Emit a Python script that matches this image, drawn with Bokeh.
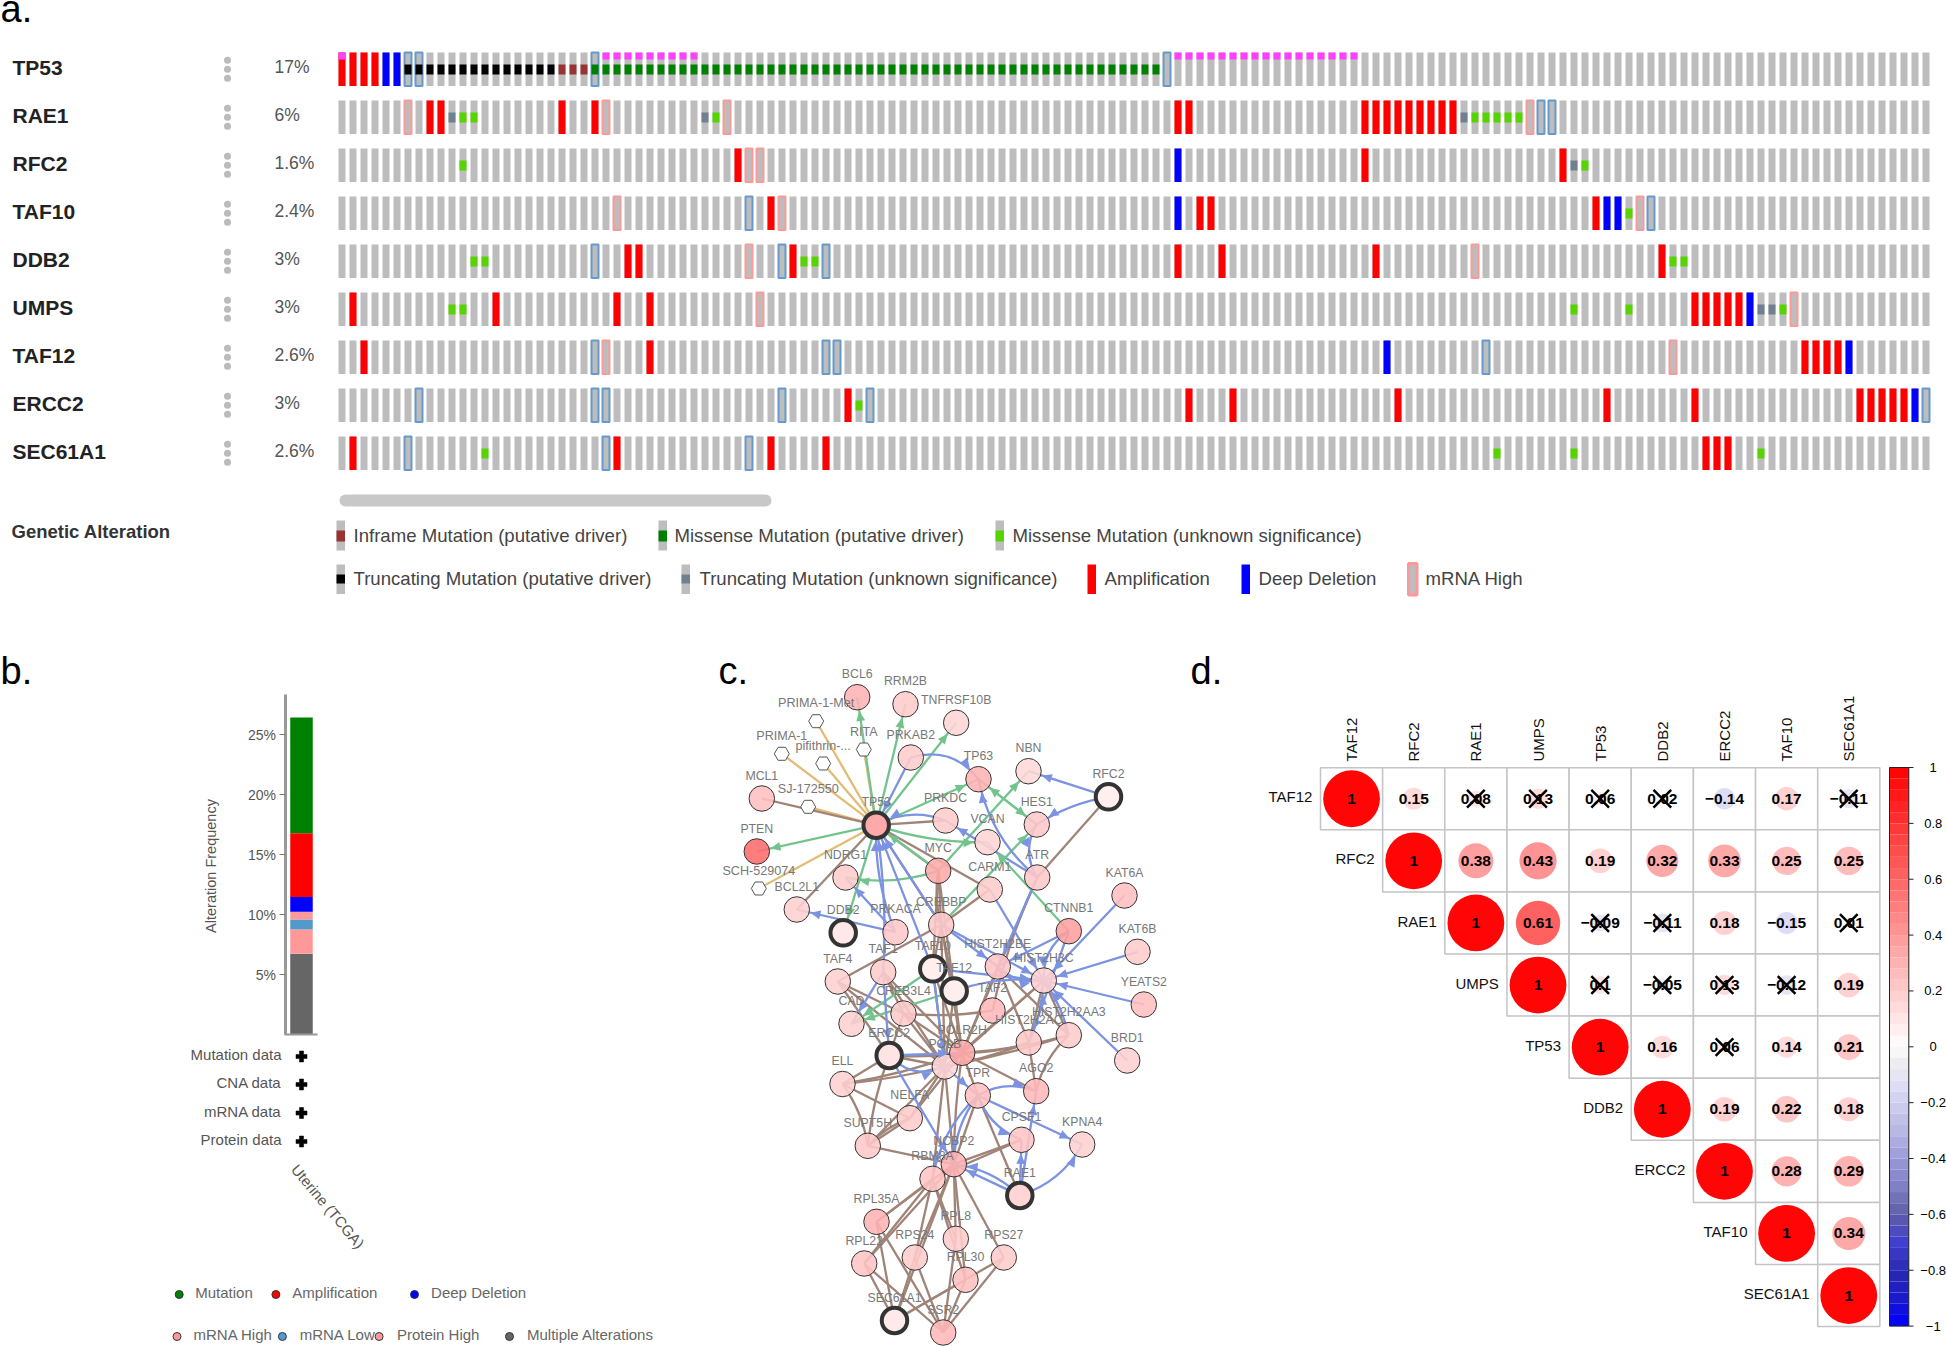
import math
import numpy as np
from bokeh.core.properties import value
from bokeh.embed import file_html
from bokeh.layouts import column, row
from bokeh.models import ColumnDataSource, FixedTicker, LinearAxis, LinearColorMapper, Range1d
from bokeh.plotting import figure
from bokeh.resources import INLINE

FONT = value("Liberation Sans")

# ------------------------------ panel a data ------------------------------
genes = ["TP53", "RAE1", "RFC2", "TAF10", "DDB2", "UMPS", "TAF12", "ERCC2", "SEC61A1"]
pcts = ["17%", "6%", "1.6%", "2.4%", "3%", "3%", "2.6%", "3%", "2.6%"]
n_samples = 145
amp = [[0, 1, 2, 3], [8, 9, 20, 23, 76, 77] + list(range(93, 102)), [36, 93, 111], [39, 78, 79, 114],
       [26, 27, 41, 76, 80, 94, 120], [1, 14, 25, 28, 123, 124, 125, 126, 127], [2, 28, 133, 134, 135, 136],
       [46, 77, 81, 96, 115, 123, 138, 139, 140, 141, 142], [1, 25, 39, 44, 124, 125, 126]]
deep = [[4, 5], [], [76], [76, 115, 116], [], [128], [95, 137], [143], []]
mrna_high = [[], [6, 24, 35, 108], [37, 38], [25, 40, 118], [37, 103], [38, 132], [24, 121], [], []]
mrna_low = [[6, 7, 23, 75], [109, 110], [], [37, 119], [23, 40, 44], [], [23, 44, 45, 104],
            [7, 23, 24, 40, 48, 144], [6, 24, 37]]
protein_high = [[0] + list(range(24, 33)) + list(range(76, 93)), [], [], [], [], [], [], [], []]
trunc_driver = [list(range(6, 20)), [], [], [], [], [], [], [], []]
inframe_driver = [[20, 21, 22], [], [], [], [], [], [], [], []]
missense_driver = [list(range(23, 75)), [], [], [], [], [], [], [], []]
missense_unknown = [[], [11, 12, 34, 103, 104, 105, 106, 107], [11, 113], [117], [12, 13, 42, 43, 121, 122],
                    [10, 11, 112, 117, 131], [], [47], [13, 105, 112, 129]]
trunc_unknown = [[], [10, 33, 102], [112], [], [], [129, 130], [], [], []]

legend_a = [("Inframe Mutation (putative driver)", "inframe"), ("Missense Mutation (putative driver)", "misdrv"),
            ("Missense Mutation (unknown significance)", "misunk"), ("Truncating Mutation (putative driver)", "trdrv"),
            ("Truncating Mutation (unknown significance)", "trunk"), ("Amplification", "amp"),
            ("Deep Deletion", "deep"), ("mRNA High", "high")]
legend_a_swatch_x = [336, 658, 995, 336, 681, 1087, 1241, 1407]
legend_a_text_x = [353, 674, 1012, 353, 699, 1104, 1258, 1425]
legend_a_row = [0, 0, 0, 1, 1, 1, 1, 1]

C_GREY = "#bdbdbd"
C = dict(amp="#ff0000", deep="#0000ff", high="#ff9999", low="#6699cc", prot="#ff40ff", trdrv="#000000",
         trunk="#708090", inframe="#993333", misdrv="#008000", misunk="#55d400")

# ------------------------------ panel b data ------------------------------
stack_names = ["Multiple Alterations", "Protein High", "mRNA Low", "mRNA High", "Deep Deletion", "Amplification", "Mutation"]
stack_values = [6.77, 2.02, 0.83, 0.64, 1.24, 5.3, 9.65]
stack_colors = ["#666666", "#ff9999", "#5599cc", "#ff9999", "#0000ff", "#ff0000", "#008000"]
y_ticks_b = [5, 10, 15, 20, 25]
data_types = ["Mutation data", "CNA data", "mRNA data", "Protein data"]
study = "Uterine (TCGA)"
legend_b = ["Mutation", "Amplification", "Deep Deletion", "mRNA High", "mRNA Low", "Protein High", "Multiple Alterations"]
legend_b_col = ["#008000", "#ff0000", "#0000ff", "#ff9999", "#5599cc", "#ff9999", "#666666"]
legend_b_dot_x = [178.7, 275.4, 414, 176.5, 281.9, 378.6, 509]
legend_b_text_x = [194.7, 291.8, 430.6, 193, 299.2, 396.4, 526.5]
legend_b_y = [1292, 1292, 1292, 1334, 1334, 1334, 1334]

# ------------------------------ panel c data ------------------------------
nodes = [
    ("BCL6", 856.7, 696.7, "#ffb3b3"), ("RRM2B", 905, 703.7, "#ffcccc"), ("TNFRSF10B", 955.7, 722.3, "#ffd5d5"),
    ("PRKAB2", 910.3, 757, "#ffcccc"), ("TP63", 978, 778.7, "#ffb3b3"), ("NBN", 1028, 770.7, "#ffd8d8"),
    ("HES1", 1036.3, 824, "#ffc8c8"), ("PRKDC", 945, 820, "#ffcccc"), ("VCAN", 987, 841.7, "#ffd5d5"),
    ("MCL1", 761.3, 798, "#ffbfbf"), ("PTEN", 756.3, 851, "#ff6b6b"), ("NDRG1", 845, 877, "#ffcccc"),
    ("BCL2L1", 796.3, 909, "#ffd0d0"), ("MYC", 937.7, 870.3, "#ffaaaa"), ("CARM1", 989.3, 889, "#ffcccc"),
    ("ATR", 1036.7, 877, "#ffc8c8"), ("CREBBP", 940.7, 924.3, "#ffc8c8"), ("PRKACA", 895, 931.7, "#ffc8c8"),
    ("KAT6A", 1124, 895, "#ffbfbf"), ("CTNNB1", 1068.3, 930.7, "#ff9f9f"), ("KAT6B", 1137, 951.3, "#ffcccc"),
    ("HIST2H2BE", 997.3, 966, "#ffc4c4"), ("HIST2H3C", 1043.3, 980, "#ffd0d0"), ("TAF1", 882.7, 971.7, "#ffcccc"),
    ("TAF4", 837.3, 981, "#ffd0d0"), ("YEATS2", 1143.3, 1004, "#ffbfbf"), ("CAD", 851, 1023.3, "#ffd0d0"),
    ("CREB3L4", 903, 1013, "#ffcaca"), ("TAF2", 992, 1010, "#ffb8b8"), ("HIST2H2AC", 1028.3, 1042, "#ffc8c8"),
    ("HIST2H2AA3", 1068.3, 1034.7, "#ffcccc"), ("BRD1", 1126.7, 1060, "#ffd0d0"), ("POLB", 944.3, 1066, "#ffd5d5"),
    ("POLR2H", 961.7, 1052.3, "#ffaaaa"), ("ELL", 842, 1083.5, "#ffd0d0"), ("TPR", 977.3, 1095, "#ffbfbf"),
    ("AGO2", 1035.7, 1090.7, "#ffb8b8"), ("NELFA", 909.3, 1117.7, "#ffcccc"), ("CPSF1", 1021, 1139.3, "#ffc4c4"),
    ("KPNA4", 1081.7, 1144, "#ffd0d0"), ("SUPT5H", 867.3, 1145.3, "#ffc8c8"), ("RBM8A", 932, 1178.3, "#ffc4c4"),
    ("NCBP2", 953.3, 1163.7, "#ffb3b3"), ("RPL35A", 876, 1221.3, "#ffb3b3"), ("RPL8", 955.3, 1238.3, "#ffcccc"),
    ("RPS27", 1003.3, 1257, "#ffcccc"), ("RPS24", 914.3, 1257, "#ffcccc"), ("RPL22", 863.7, 1263, "#ffc4c4"),
    ("RPL30", 965, 1279.3, "#ffc0c0"), ("SSR2", 942.7, 1332, "#ffb8b8"),
]
query_nodes = [
    ("TP53", 875.7, 824.7, "#ffaaaa"), ("RFC2", 1108, 796.3, "#fff0ee"), ("DDB2", 842.7, 932.3, "#ffe8e8"),
    ("TAF10", 932.3, 968.3, "#ffeeee"), ("TAF12", 953.7, 990.5, "#ffeeee"), ("ERCC2", 888.7, 1055, "#ffe4e4"),
    ("RAE1", 1019.3, 1195, "#ffd5d5"), ("SEC61A1", 894, 1320, "#ffeaea"),
]
drugs = [("PRIMA-1-Met", 815.7, 720.7), ("PRIMA-1", 781.3, 753.3), ("pifithrin-...", 822.7, 763),
         ("RITA", 863.3, 749), ("SJ-172550", 807.7, 806.3), ("SCH-529074", 758.3, 888)]
edges_brown = [
    ("MCL1", "TP53", 0), ("PRKDC", "TP53", 0), ("BCL2L1", "TP53", 0), ("TP53", "CARM1", 0), ("TP53", "CREBBP", 0),
    ("TP53", "MYC", 0), ("RFC2", "ATR", 0), ("CARM1", "CREBBP", 0), ("MYC", "CREBBP", 0), ("MYC", "CREBBP", 3),
    ("MYC", "TAF12", 0), ("MYC", "TAF10", 0), ("CREBBP", "TAF4", 0), ("CREBBP", "TAF12", 0), ("CREBBP", "TAF10", 0),
    ("CREBBP", "POLB", 0), ("CREBBP", "POLR2H", 0), ("ATR", "TAF2", 4), ("ATR", "POLR2H", 0), ("TAF4", "POLB", 0),
    ("TAF4", "ERCC2", 0), ("TAF1", "POLB", 0), ("TAF1", "POLR2H", 0), ("TAF1", "CREB3L4", 0), ("TAF4", "CREB3L4", 0),
    ("TAF10", "POLB", 0), ("TAF10", "POLR2H", 0), ("TAF12", "POLR2H", 0), ("TAF12", "POLB", 0),
    ("CREB3L4", "TAF2", 3), ("CREB3L4", "POLR2H", 0), ("CREB3L4", "POLB", 0), ("CREB3L4", "ERCC2", 0),
    ("HIST2H3C", "POLR2H", 0), ("HIST2H3C", "POLB", 0), ("HIST2H2BE", "POLR2H", 0), ("HIST2H3C", "HIST2H2AC", 0),
    ("HIST2H3C", "HIST2H2AA3", 0), ("HIST2H2BE", "HIST2H2AC", 0), ("HIST2H2BE", "HIST2H2AA3", 0),
    ("HIST2H2AC", "AGO2", 0), ("HIST2H2AA3", "AGO2", 5), ("POLR2H", "HIST2H2AC", 3), ("POLR2H", "HIST2H2AA3", 3),
    ("POLB", "HIST2H2AC", 2), ("POLB", "HIST2H2AA3", 2), ("ELL", "POLB", 2), ("ELL", "POLR2H", 3), ("ELL", "ERCC2", 0),
    ("ELL", "SUPT5H", -4), ("ELL", "NELFA", 0), ("ERCC2", "SUPT5H", 3), ("ERCC2", "POLB", 0), ("ERCC2", "POLR2H", 2),
    ("POLR2H", "AGO2", 0), ("POLR2H", "TPR", 0), ("POLB", "NELFA", 0), ("POLR2H", "NELFA", 0), ("POLB", "SUPT5H", 0),
    ("POLB", "NCBP2", 0), ("POLB", "RBM8A", 0), ("POLR2H", "NCBP2", 2), ("TPR", "RAE1", 0), ("TPR", "NCBP2", 0),
    ("SUPT5H", "NCBP2", 0), ("NELFA", "SUPT5H", 0), ("NELFA", "SUPT5H", 3), ("CPSF1", "NCBP2", 0), ("CPSF1", "RBM8A", 0),
    ("RBM8A", "RPL35A", 0), ("RBM8A", "RPS24", 0), ("RBM8A", "RPL22", 0), ("RBM8A", "RPL8", 0), ("RBM8A", "RPL30", 0),
    ("NCBP2", "RPL35A", 0), ("NCBP2", "RPL8", 0), ("NCBP2", "RPS27", 0), ("NCBP2", "RPL30", 0), ("NCBP2", "RPS24", 0),
    ("NCBP2", "RPL22", 0), ("NCBP2", "SEC61A1", 0), ("RPL35A", "SEC61A1", 0), ("RPL35A", "SSR2", 0),
    ("RPL22", "SEC61A1", 0), ("RPL22", "SSR2", 0), ("RPS24", "SEC61A1", 0), ("RPS24", "SSR2", 0), ("RPL8", "SSR2", 0),
    ("RPL30", "SEC61A1", 0), ("RPL30", "SSR2", 0), ("RPS27", "SEC61A1", 0), ("RPS27", "SSR2", 0),
]
edges_drug = [("PRIMA-1-Met", "TP53", 0), ("PRIMA-1", "TP53", 0), ("pifithrin-...", "TP53", 0), ("RITA", "TP53", 0),
              ("SJ-172550", "TP53", 0), ("SCH-529074", "TP53", 0)]
edges_green = [
    ("TP53", "BCL6", 0), ("TP53", "RRM2B", 0), ("TP53", "TNFRSF10B", 0), ("TP53", "TP63", 0), ("TP53", "PTEN", 0),
    ("TP53", "DDB2", 0), ("TP53", "VCAN", 5), ("MYC", "TP53", 0), ("MYC", "NDRG1", -6), ("MYC", "NBN", 0),
    ("CREBBP", "HES1", 0), ("CTNNB1", "VCAN", 0), ("TP63", "HES1", 0), ("HES1", "TP63", 0), ("TAF10", "CAD", 0),
    ("TAF12", "CAD", 0),
]
edges_blue = [
    ("PRKAB2", "TP63", -12), ("PRKAB2", "TP53", 0), ("RFC2", "NBN", 0), ("RFC2", "HES1", 4), ("PRKDC", "TP53", 8),
    ("ATR", "PRKDC", 0), ("ATR", "TP63", -10), ("ATR", "HES1", -8), ("PRKACA", "BCL2L1", 0), ("PRKACA", "NDRG1", 0),
    ("PRKACA", "TP53", -6), ("TAF1", "TP53", 4), ("TAF10", "TP53", 0), ("CREBBP", "TP53", 0), ("CREBBP", "HIST2H2BE", 0),
    ("CREBBP", "HIST2H3C", 0), ("CTNNB1", "HIST2H2BE", 0), ("CTNNB1", "HIST2H3C", 8), ("KAT6A", "HIST2H3C", 0),
    ("KAT6B", "HIST2H3C", 0), ("YEATS2", "HIST2H3C", 0), ("BRD1", "HIST2H3C", 0), ("TAF12", "HIST2H3C", -5),
    ("TAF10", "HIST2H3C", 0), ("CARM1", "HIST2H3C", 0), ("ATR", "HIST2H2BE", 0), ("HIST2H2BE", "HIST2H3C", 6),
    ("HIST2H2AC", "HIST2H3C", 3), ("HIST2H2AA3", "HIST2H3C", 3), ("CTNNB1", "HIST2H2AC", 0), ("ERCC2", "POLR2H", 0),
    ("ERCC2", "POLB", 10), ("POLB", "TPR", 0), ("TPR", "AGO2", -7), ("TPR", "CPSF1", 7), ("TPR", "KPNA4", 0),
    ("TPR", "NCBP2", 6), ("TPR", "RBM8A", 8), ("ERCC2", "NCBP2", 0), ("RAE1", "NCBP2", 0), ("RAE1", "NCBP2", 6),
    ("RAE1", "CPSF1", 0), ("RAE1", "AGO2", 0), ("RAE1", "KPNA4", 8), ("TAF1", "CAD", 0), ("TAF1", "ERCC2", 0),
    ("TAF10", "POLB", 0),
]

# ------------------------------ panel d data ------------------------------
corr_names = ["TAF12", "RFC2", "RAE1", "UMPS", "TP53", "DDB2", "ERCC2", "TAF10", "SEC61A1"]
corr_rows = [
    [1, 0.15, 0.08, 0.13, 0.06, 0.02, -0.14, 0.17, -0.11],
    [1, 0.38, 0.43, 0.19, 0.32, 0.33, 0.25, 0.25],
    [1, 0.61, -0.09, -0.11, 0.18, -0.15, 0.01],
    [1, 0.1, -0.05, 0.13, -0.12, 0.19],
    [1, 0.16, 0.06, 0.14, 0.21],
    [1, 0.19, 0.22, 0.18],
    [1, 0.28, 0.29],
    [1, 0.34],
    [1],
]
crossed = [(0, 2), (0, 3), (0, 4), (0, 5), (0, 8), (2, 4), (2, 5), (2, 8), (3, 4), (3, 5), (3, 6), (3, 7), (4, 6)]
colorbar_ticks = [1, 0.8, 0.6, 0.4, 0.2, 0, -0.2, -0.4, -0.6, -0.8, -1]


def txt(p, xs, ys, labels, size, color="#444444", align="left", style="normal", baseline="middle", angle=0):
    p.text(xs, ys, text=labels, text_font=FONT, text_font_size=size, text_color=color, text_align=align,
           text_baseline=baseline, text_font_style=style, angle=angle)


def make(w, h, xr, yr):
    f = figure(width=w, height=h, x_range=Range1d(*xr), y_range=Range1d(*yr), output_backend="svg",
               toolbar_location=None, min_border=0, outline_line_color=None, x_axis_type=None, y_axis_type=None)
    f.grid.visible = False
    f.background_fill_color = "white"
    f.border_fill_color = "white"
    return f


# ================================ PANEL A ================================
Xa = lambda px: (px - 338) / 11
Ya = lambda py: (py - 52) / 48
pa = make(1946, 650, (Xa(0), Xa(1946)), (Ya(650), Ya(0)))
BW, RH = 7 / 11, 33.5 / 48


def bars(rows, color, y0=0.0, y1=RH, width=BW, **kw):
    xs, ys = [], []
    for r, cols in enumerate(rows):
        xs += list(cols)
        ys += [r] * len(cols)
    xs, ys = np.array(xs, dtype=float), np.array(ys, dtype=float)
    kw.setdefault("line_color", None)
    pa.quad(left=xs, right=xs + width, top=ys + y0, bottom=ys + y1, fill_color=color, **kw)


bars([list(range(n_samples))] * len(genes), C_GREY)
bars(mrna_high, C_GREY, line_color=C["high"], line_width=2)
bars(mrna_low, C_GREY, line_color=C["low"], line_width=2)
bars(amp, C["amp"])
bars(deep, C["deep"])
MID0, MID1 = 12 / 48, 22 / 48
bars(protein_high, C["prot"], y1=7 / 48)
bars(trunc_driver, C["trdrv"], MID0, MID1)
bars(inframe_driver, C["inframe"], MID0, MID1)
bars(missense_driver, C["misdrv"], MID0, MID1)
bars(missense_unknown, C["misunk"], MID0, MID1)
bars(trunc_unknown, C["trunk"], MID0, MID1)

row_mid = [RH / 2 + i for i in range(len(genes))]
txt(pa, [Xa(12)] * 9, [m - 1.7 / 48 for m in row_mid], genes, "21px", "#222222", style="bold")
txt(pa, [Xa(274)] * 9, [m - 2.2 / 48 for m in row_mid], pcts, "17.5px", "#555555")
for off in (-9, 0, 9):
    pa.scatter([Xa(227)] * 9, [m + off / 48 for m in row_mid], marker="circle", size=7, fill_color="#bbbbbb",
               line_color=None)
pa.line([Xa(345), Xa(765)], [Ya(500), Ya(500)], line_width=12, line_color="#c8c8c8", line_cap="round")
txt(pa, [Xa(11)], [Ya(530.5)], ["Genetic Alteration"], "18.5px", "#333333", style="bold")
txt(pa, [Xa(0)], [Ya(8)], ["a."], "38px", "#000000", baseline="alphabetic")

sw_top = [520, 564]
sw_bot = [550, 593.5]
mid_top = [530, 574]
mid_bot = [541, 583]
txt_y = [534.5, 578]
for (lab, key), sx, tx, r in zip(legend_a, legend_a_swatch_x, legend_a_text_x, legend_a_row):
    left, right = Xa(sx), Xa(sx + 8.5)
    if key == "high":
        pa.quad(left=[left + 1 / 11], right=[right + 1 / 11], top=[Ya(sw_top[r] - 1)], bottom=[Ya(sw_bot[r] + 1)],
                fill_color=C_GREY, line_color=C["high"], line_width=3)
    elif key in ("amp", "deep"):
        pa.quad(left=[left], right=[right], top=[Ya(sw_top[r])], bottom=[Ya(sw_bot[r])], fill_color=C[key], line_color=None)
    else:
        pa.quad(left=[left], right=[right], top=[Ya(sw_top[r])], bottom=[Ya(sw_bot[r])], fill_color=C_GREY, line_color=None)
        pa.quad(left=[left], right=[right], top=[Ya(mid_top[r])], bottom=[Ya(mid_bot[r])], fill_color=C[key], line_color=None)
    txt(pa, [Xa(tx)], [Ya(txt_y[r])], [lab], "18.6px", "#444444")

# ================================ PANEL B ================================
Xb = lambda px: (px - 301) / 22.5
Yb = lambda py: (1034.4 - py) / 12
pb = make(708, 697, (Xb(0), Xb(708)), (Yb(1347), Yb(650)))
tops = np.cumsum(stack_values)
bots = tops - np.array(stack_values)
pb.vbar(x=[0] * len(tops), width=1, bottom=bots, top=tops, fill_color=stack_colors, line_color=None)
yaxis = LinearAxis(fixed_location=Xb(284.5), ticker=FixedTicker(ticks=y_ticks_b), bounds=(0, 28.4),
                   major_label_overrides={t: f"{t}%" for t in y_ticks_b}, axis_line_color="#999999", axis_line_width=3,
                   major_tick_line_color="#777777", major_tick_in=0, major_tick_out=6, minor_tick_line_color=None,
                   major_label_text_font="Liberation Sans", major_label_text_font_size="14px",
                   major_label_text_color="#555555", major_label_standoff=3)
pb.add_layout(yaxis, "left")
xaxis = LinearAxis(fixed_location=0, ticker=FixedTicker(ticks=[]), bounds=(Xb(284), Xb(317)), axis_line_color="#999999",
                   axis_line_width=2, major_tick_line_color=None, minor_tick_line_color=None,
                   major_label_text_font_size="0px")
pb.add_layout(xaxis, "below")
txt(pb, [Xb(210)], [Yb(865.5)], ["Alteration Frequency"], "14.5px", "#555555", align="center", angle=math.pi / 2)
dt_y = [1054, 1082, 1110.5, 1139]
txt(pb, [Xb(281)] * 4, [Yb(v) for v in dt_y], data_types, "15px", "#555555", align="right")
pb.scatter([0] * 4, [Yb(v + 2) for v in dt_y], marker="plus", size=11, fill_color="black", line_color="black", line_width=0.5)
txt(pb, [Xb(294)], [Yb(1166)], [study], "15px", "#555555", angle=-math.radians(50))
pb.scatter([Xb(v) for v in legend_b_dot_x], [Yb(v + 2) for v in legend_b_y], marker="circle", size=8,
           fill_color=legend_b_col, line_color="#333333", line_width=1)
txt(pb, [Xb(v) for v in legend_b_text_x], [Yb(v) for v in legend_b_y], legend_b, "15px", "#666666")
txt(pb, [Xb(0)], [Yb(670)], ["b."], "38px", "#000000", baseline="alphabetic")

# ================================ PANEL C ================================
pc = make(472, 697, (708, 1180), (1347, 650))
pos = {n: (x, y) for n, x, y, *_ in nodes + query_nodes + drugs}
radius = {n: 13 for n, *_ in nodes}
radius.update({n: 15 for n, *_ in query_nodes})
radius.update({n: 8 for n, *_ in drugs})


def draw_edges(edges, color, arrows, width=2.3):
    x0, y0, x1, y1, cx, cy = [], [], [], [], [], []
    heads_x, heads_y = [], []
    for a, b, c in edges:
        ax, ay = pos[a]
        bx, by = pos[b]
        dx, dy = bx - ax, by - ay
        d = math.hypot(dx, dy)
        mx, my = (ax + bx) / 2 - dy / d * c * 2, (ay + by) / 2 + dx / d * c * 2
        ex, ey = bx - mx, by - my
        e = math.hypot(ex, ey)
        ux, uy = ex / e, ey / e
        if arrows:
            tipx, tipy = bx - ux * (radius[b] + 1), by - uy * (radius[b] + 1)
            bax, bay = tipx - ux * 10, tipy - uy * 10
            heads_x.append([tipx, bax - uy * 4.5, bax + uy * 4.5])
            heads_y.append([tipy, bay + ux * 4.5, bay - ux * 4.5])
        x0.append(ax); y0.append(ay); x1.append(bx); y1.append(by); cx.append(mx); cy.append(my)
    pc.quadratic(x0, y0, x1, y1, cx, cy, line_color=color, line_width=width)
    return heads_x, heads_y


draw_edges(edges_drug, "#e2bc74", False)
draw_edges(edges_brown, "#a08478", False)
hx_g, hy_g = draw_edges(edges_green, "#72c48c", True)
hx_b, hy_b = draw_edges(edges_blue, "#7b93e0", True)
pc.scatter([d[1] for d in drugs], [d[2] for d in drugs], marker="hex", size=15, fill_color="white", line_color="#555555",
           line_width=1)
pc.scatter([n[1] for n in nodes], [n[2] for n in nodes], marker="circle", size=25.5, fill_color=[n[3] for n in nodes],
           fill_alpha=0.88, line_color="#333333", line_width=1)
pc.scatter([n[1] for n in query_nodes], [n[2] for n in query_nodes], marker="circle", size=25.5,
           fill_color=[n[3] for n in query_nodes], line_color="#333333", line_width=4)
pc.patches(hx_g, hy_g, fill_color="#72c48c", line_color=None)
pc.patches(hx_b, hy_b, fill_color="#7b93e0", line_color=None)
all_n = nodes + query_nodes
txt(pc, [n[1] for n in all_n], [n[2] - 23 for n in all_n], [n[0] for n in all_n], "12.3px", "#777777", align="center")
txt(pc, [d[1] for d in drugs], [d[2] - 18 for d in drugs], [d[0] for d in drugs], "12.6px", "#777777", align="center")
txt(pc, [718], [670], ["c."], "38px", "#000000", baseline="alphabetic")

# ================================ PANEL D ================================
Xd = lambda px: (px - 1320) / 62.15
Yd = lambda py: (py - 767.2) / 62.1
pd_ = make(766, 697, (Xd(1180), Xd(1946)), (Yd(1347), Yd(650)))
anchors_v = [-1, -0.9, -0.8, -0.7, -0.6, -0.5, -0.4, -0.3, -0.15, -0.04, 0, 0.2, 0.4, 0.6, 0.8, 1]
anchors_rgb = [(0, 0, 255), (26, 26, 204), (42, 42, 176), (64, 64, 208), (95, 95, 168), (128, 128, 196), (154, 154, 216),
               (184, 184, 228), (220, 220, 246), (240, 240, 240), (255, 255, 255), (255, 204, 204), (255, 153, 153),
               (255, 102, 102), (255, 51, 51), (255, 0, 0)]
band_mid = np.linspace(-1, 1, 51)[:-1] + 0.02
palette = ["#%02x%02x%02x" % tuple(int(np.interp(v, anchors_v, [c[k] for c in anchors_rgb])) for k in range(3))
           for v in band_mid]
mapper = LinearColorMapper(palette=palette, low=-1, high=1)

cx, cy, cv, cl = [], [], [], []
for i, vals in enumerate(corr_rows):
    for k, v in enumerate(vals):
        cx.append(i + k + 0.5)
        cy.append(i + 0.5)
        cv.append(v)
        cl.append(f"{v:g}".replace("-", "\u2212"))
cx_a, cy_a = np.array(cx), np.array(cy)
pd_.quad(left=cx_a - 0.5, right=cx_a + 0.5, top=cy_a - 0.5, bottom=cy_a + 0.5, fill_color="white", line_color="#c4c4c4",
         line_width=1.5)
src = ColumnDataSource(dict(x=cx, y=cy, r=[0.457 * math.sqrt(abs(v)) for v in cv], v=cv))
pd_.circle("x", "y", radius="r", source=src, fill_color={"field": "v", "transform": mapper}, line_color=None)
txt(pd_, cx, cy, cl, "15.5px", "#000000", align="center", style="bold")
pd_.scatter([j + 0.5 for i, j in crossed], [i + 0.5 for i, j in crossed], marker="x", size=25, line_color="black",
            line_width=2.5, fill_color=None)
txt(pd_, [j + 0.5 for j in range(9)], [Yd(761)] * 9, corr_names, "15px", "#111111", angle=math.pi / 2)
txt(pd_, [j - 0.13 for j in range(9)], [j + 0.47 for j in range(9)], corr_names, "15px", "#111111", align="right")

cb_top, cb_h = 767.0, 558.6
val_y = lambda v: Yd(cb_top + (1 - v) / 2 * cb_h)
edges_v = np.linspace(-1, 1, 51)
pd_.quad(left=[Xd(1889)] * 50, right=[Xd(1908.3)] * 50, top=[val_y(v) for v in edges_v[1:]],
         bottom=[val_y(v) for v in edges_v[:-1]], fill_color=palette, line_color=None)
pd_.quad(left=[Xd(1889)], right=[Xd(1908.3)], top=[val_y(1)], bottom=[val_y(-1)], fill_color=None, line_color="#222222",
         line_width=1)
pd_.segment([Xd(1908.3)] * 11, [val_y(v) for v in colorbar_ticks], [Xd(1913)] * 11, [val_y(v) for v in colorbar_ticks],
            line_color="#222222", line_width=1)
txt(pd_, [Xd(1932.7)] * 11, [val_y(v) for v in colorbar_ticks], [f"{v:g}".replace("-", "\u2212") for v in colorbar_ticks],
    "13px", "#000000", align="center")
txt(pd_, [Xd(1190)], [Yd(670)], ["d."], "38px", "#000000", baseline="alphabetic")

page = column(pa, row(pb, pc, pd_, spacing=0), spacing=0)
open("out.html", "w").write(file_html(page, INLINE))
